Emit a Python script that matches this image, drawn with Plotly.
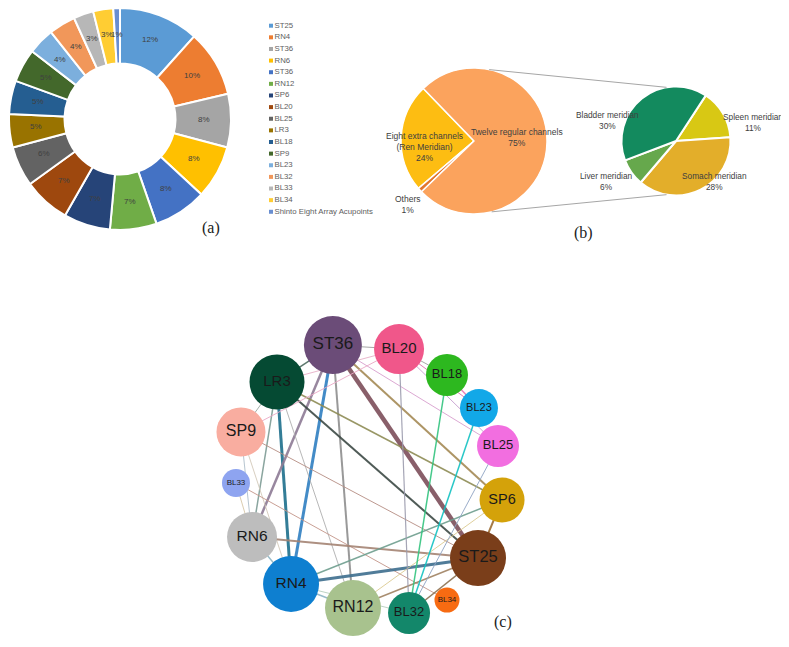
import math
import plotly.graph_objects as go

# page is 789x647; the browser's default 8px body margin offsets the figure
PAGE_W, PAGE_H = 789, 647
OFF = 8
W, H = PAGE_W - OFF, PAGE_H - OFF

# ---------------- DATA ----------------
# (a) acupoint frequency donut
acupoints = ["ST25", "RN4", "ST36", "RN6", "ST36", "RN12", "SP6", "BL20", "BL25",
             "LR3", "BL18", "SP9", "BL23", "BL32", "BL33", "BL34",
             "Shinto Eight Array Acupoints"]
acupoint_pct = [12, 10, 8, 8, 8, 7, 7, 7, 6, 5, 5, 5, 4, 4, 3, 3, 1]

# (b) channel distribution (pie of pie)
channel_labels = ["Eight extra channels<br>(Ren Meridian)", "Others", "Twelve regular channels"]
channel_pct = [24, 1, 75]
meridian_labels = ["Spleen meridian", "Somach meridian", "Liver meridian", "Bladder meridian"]
meridian_pct = [11, 28, 6, 30]

# (c) co-occurrence network (layout coordinates, unit circle)
nodes = ["ST36", "BL20", "BL18", "BL23", "BL25", "SP6", "ST25", "BL34", "BL32",
         "RN12", "RN4", "RN6", "BL33", "SP9", "LR3"]
node_x = [-0.26, 0.23, 0.585, 0.822, 0.963, 0.993, 0.815, 0.585, 0.304,
          -0.111, -0.570, -0.859, -0.978, -0.941, -0.674]
node_y = [0.985, 0.955, 0.763, 0.519, 0.237, -0.163, -0.593, -0.904, -1.0,
          -0.963, -0.785, -0.437, -0.037, 0.341, 0.711]
edges = [("ST36", "ST25", 4.5), ("ST36", "RN4", 3), ("LR3", "RN4", 3), ("ST36", "RN6", 2.5),
         ("ST36", "RN12", 2), ("ST36", "SP6", 2), ("ST36", "BL25", 1), ("ST36", "BL20", 1),
         ("ST36", "LR3", 1.5), ("LR3", "ST25", 2), ("LR3", "SP6", 1.5), ("LR3", "RN6", 1.5),
         ("LR3", "RN12", 1), ("LR3", "SP9", 1), ("SP9", "BL20", 1), ("SP9", "ST25", 1),
         ("SP9", "RN6", 1), ("SP9", "RN4", 1), ("BL33", "BL34", 1), ("BL33", "RN6", 1),
         ("RN6", "ST25", 2), ("RN4", "ST25", 3), ("RN4", "SP6", 1.5), ("RN12", "ST25", 1.5),
         ("RN12", "SP6", 1), ("BL18", "BL32", 1.5), ("BL23", "BL32", 1.5), ("BL20", "BL32", 1.2),
         ("BL25", "BL32", 1), ("BL20", "BL18", 1), ("BL20", "BL23", 1), ("BL18", "BL23", 1.5),
         ("BL20", "BL25", 1), ("ST25", "SP6", 2), ("ST25", "BL32", 1.5), ("RN4", "RN12", 1.5),
         ("RN4", "RN6", 1.5), ("LR3", "BL20", 1), ("RN4", "BL32", 1)]

# ---------------- STYLE ----------------
donut_colors = ["#5B9BD5", "#ED7D31", "#A5A5A5", "#FFC000", "#4472C4", "#70AD47", "#264478",
                "#9E480E", "#636363", "#997300", "#255E91", "#43682B", "#7CAFDD", "#F1975A",
                "#B7B7B7", "#FFCD33", "#698ED0"]
channel_colors = ["#FDBD12", "#E2772E", "#FBA35D"]
meridian_colors = ["#D8C814", "#E3AE2A", "#66A84C", "#138A5E"]
edge_colors = ["#7D4E5A", "#2F7FC1", "#1E6F8C", "#8D7B95", "#8E8E8E", "#A58A55", "#D9A0CF",
               "#9E9E9E", "#4C6A5E", "#3D4A45", "#8E8C55", "#7E9C95", "#B0B0B0", "#9AA8A0",
               "#EBA8C6", "#B68E84", "#AFC0CC", "#D4CABA", "#C4968A", "#D8C8A8", "#A58474",
               "#3E6E8E", "#6E9E8E", "#A08262", "#DCCB92", "#33C47F", "#12C2C2", "#9C9CAE",
               "#8FA4C4", "#A0A0A0", "#E070B0", "#E879B5", "#C8A0D0", "#9C6C32", "#8C7252",
               "#8CB4C4", "#8CB4C4", "#E8B0C8", "#B8D0C0"]
node_colors = ["#6B4C78", "#F0578A", "#2DB81F", "#12A8E8", "#F26EE0", "#D4A20A", "#7A3E1A",
               "#F76B12", "#13876A", "#A8C28E", "#0E7FD0", "#BDBDBD", "#8EA4F0", "#F9ADA0",
               "#054A33"]
node_diam = [58, 50, 42, 38, 42, 45, 56, 25, 42, 56, 56, 50, 28, 49, 55]
node_font = [17, 15, 13, 11, 13, 14.5, 16.5, 8, 13, 16, 15.5, 15.5, 8, 16, 15]

SANS = "Arial, Liberation Sans, sans-serif"
SERIF = "Times New Roman, Liberation Serif, serif"
TXT = "#404040"


# helpers: page-pixel rectangle -> paper domain
def dom_x(x0, x1):
    return [max(0, (x0 - OFF) / W), min(1, (x1 - OFF) / W)]


def dom_y(y0, y1):
    return [max(0, 1 - (y1 - OFF) / H), min(1, 1 - (y0 - OFF) / H)]


fig = go.Figure()
annotations = []

# ---------- (a) donut ----------
D_CX, D_CY, D_R = 120, 118, 112
HOLE = 0.5
donut_labels = [f"{name}\u200b" * (i + 1) for i, name in enumerate(acupoints)]
fig.add_trace(go.Pie(
    labels=donut_labels, values=acupoint_pct, sort=False, direction="clockwise", rotation=0,
    hole=HOLE, marker=dict(colors=donut_colors, line=dict(color="white", width=2)),
    textinfo="none", hoverinfo="skip", showlegend=False,
    domain=dict(x=dom_x(D_CX - D_R, D_CX + D_R), y=dom_y(D_CY - D_R, D_CY + D_R)),
))
tr = D_R * (1 + HOLE) / 2
total = sum(acupoint_pct)
cum = 0
for v in acupoint_pct:
    mid = (cum + v / 2) / total * 2 * math.pi
    cum += v
    annotations.append(dict(x=D_CX + tr * math.sin(mid), y=D_CY - tr * math.cos(mid),
                            xref="x", yref="y", text=f"{v}%", showarrow=False,
                            font=dict(family=SANS, size=8, color=TXT)))

# legend for (a)
LEG_X, LEG_Y0, LEG_DY = 271, 25.7, 11.63
fig.add_trace(go.Scatter(
    x=[LEG_X] * len(acupoints), y=[LEG_Y0 + i * LEG_DY for i in range(len(acupoints))],
    mode="markers+text", text=acupoints, textposition="middle right",
    textfont=dict(family=SANS, size=7.8, color="#606060"),
    marker=dict(symbol="square", size=4, color=donut_colors),
    hoverinfo="skip", showlegend=False, cliponaxis=False,
))

# ---------- (b) pie of pie ----------
L_CX, L_CY, L_R = 474, 141, 73
R_CX, R_CY, R_R = 676, 141, 54.5
fig.add_trace(go.Pie(
    labels=channel_labels, values=channel_pct, sort=False, direction="counterclockwise",
    rotation=-130.4, marker=dict(colors=channel_colors, line=dict(color="white", width=1.5)),
    textinfo="none", hoverinfo="skip", showlegend=False,
    domain=dict(x=dom_x(L_CX - L_R, L_CX + L_R), y=dom_y(L_CY - L_R, L_CY + L_R)),
))
fig.add_trace(go.Pie(
    labels=meridian_labels, values=meridian_pct, sort=False, direction="clockwise",
    rotation=33.2, marker=dict(colors=meridian_colors, line=dict(color="white", width=2)),
    textinfo="none", hoverinfo="skip", showlegend=False,
    domain=dict(x=dom_x(R_CX - R_R, R_CX + R_R), y=dom_y(R_CY - R_R, R_CY + R_R)),
))


# connector lines between the pies
def pt(cxp, cyp, rp, deg):
    a = math.radians(deg)
    return cxp + rp * math.cos(a), cyp - rp * math.sin(a)


shapes = []
for la, ra in [(78, 100), (-76, -100)]:
    x0, y0 = pt(L_CX, L_CY, L_R, la)
    x1, y1 = pt(R_CX, R_CY, R_R, ra)
    shapes.append(dict(type="line", xref="x", yref="y", x0=x0, y0=y0, x1=x1, y1=y1,
                       line=dict(color="#A6A6A6", width=1)))

pie_label_pos = [(424.5, 147), (408, 204), (517, 137)]
for (lx, ly), lab, v in zip(pie_label_pos, channel_labels, channel_pct):
    annotations.append(dict(x=lx, y=ly, xref="x", yref="y", text=f"{lab}<br>{v}%",
                            showarrow=False, font=dict(family=SANS, size=8.5, color=TXT)))
mer_label_pos = [(753, 122), (714, 181), (605.5, 181), (607, 120)]
for (lx, ly), lab, v in zip(mer_label_pos, meridian_labels, meridian_pct):
    annotations.append(dict(x=lx, y=ly, xref="x", yref="y", text=f"{lab}<br>{v}%",
                            showarrow=False, font=dict(family=SANS, size=8.3, color=TXT)))

# ---------- (c) network ----------
idx = {n: i for i, n in enumerate(nodes)}
for (a, b, w), col in zip(edges, edge_colors):
    fig.add_trace(go.Scatter(
        x=[node_x[idx[a]], node_x[idx[b]]], y=[node_y[idx[a]], node_y[idx[b]]],
        mode="lines", line=dict(color=col, width=w), xaxis="x2", yaxis="y2",
        hoverinfo="skip", showlegend=False, opacity=0.9,
    ))
fig.add_trace(go.Scatter(
    x=node_x, y=node_y, mode="markers+text", text=nodes, textposition="middle center",
    marker=dict(size=node_diam, color=node_colors, line=dict(width=0), opacity=1),
    textfont=dict(family=SANS, size=node_font, color="#1a1a1a"),
    xaxis="x2", yaxis="y2", hoverinfo="skip", showlegend=False, cliponaxis=False,
))

# panel tags
for tag, tx, ty in [("(a)", 211, 228), ("(b)", 583, 233), ("(c)", 503, 622)]:
    annotations.append(dict(x=tx, y=ty, xref="x", yref="y", text=tag, showarrow=False,
                            font=dict(family=SERIF, size=16, color="#222222")))

fig.update_layout(
    width=W, height=H, margin=dict(l=0, r=0, t=0, b=0),
    paper_bgcolor="white", plot_bgcolor="rgba(0,0,0,0)",
    font=dict(family=SANS),
    xaxis=dict(range=[OFF, PAGE_W], domain=[0, 1], visible=False, fixedrange=True),
    yaxis=dict(range=[PAGE_H, OFF], domain=[0, 1], visible=False, fixedrange=True),
    xaxis2=dict(range=[-1.5, 1.5], domain=dom_x(165.5, 570.5), visible=False,
                anchor="y2", fixedrange=True),
    yaxis2=dict(range=[-1.2, 1.3], domain=dom_y(302.5, 640), visible=False,
                anchor="x2", fixedrange=True),
    annotations=annotations, shapes=shapes, showlegend=False,
)

fig.write_html("out.html")
